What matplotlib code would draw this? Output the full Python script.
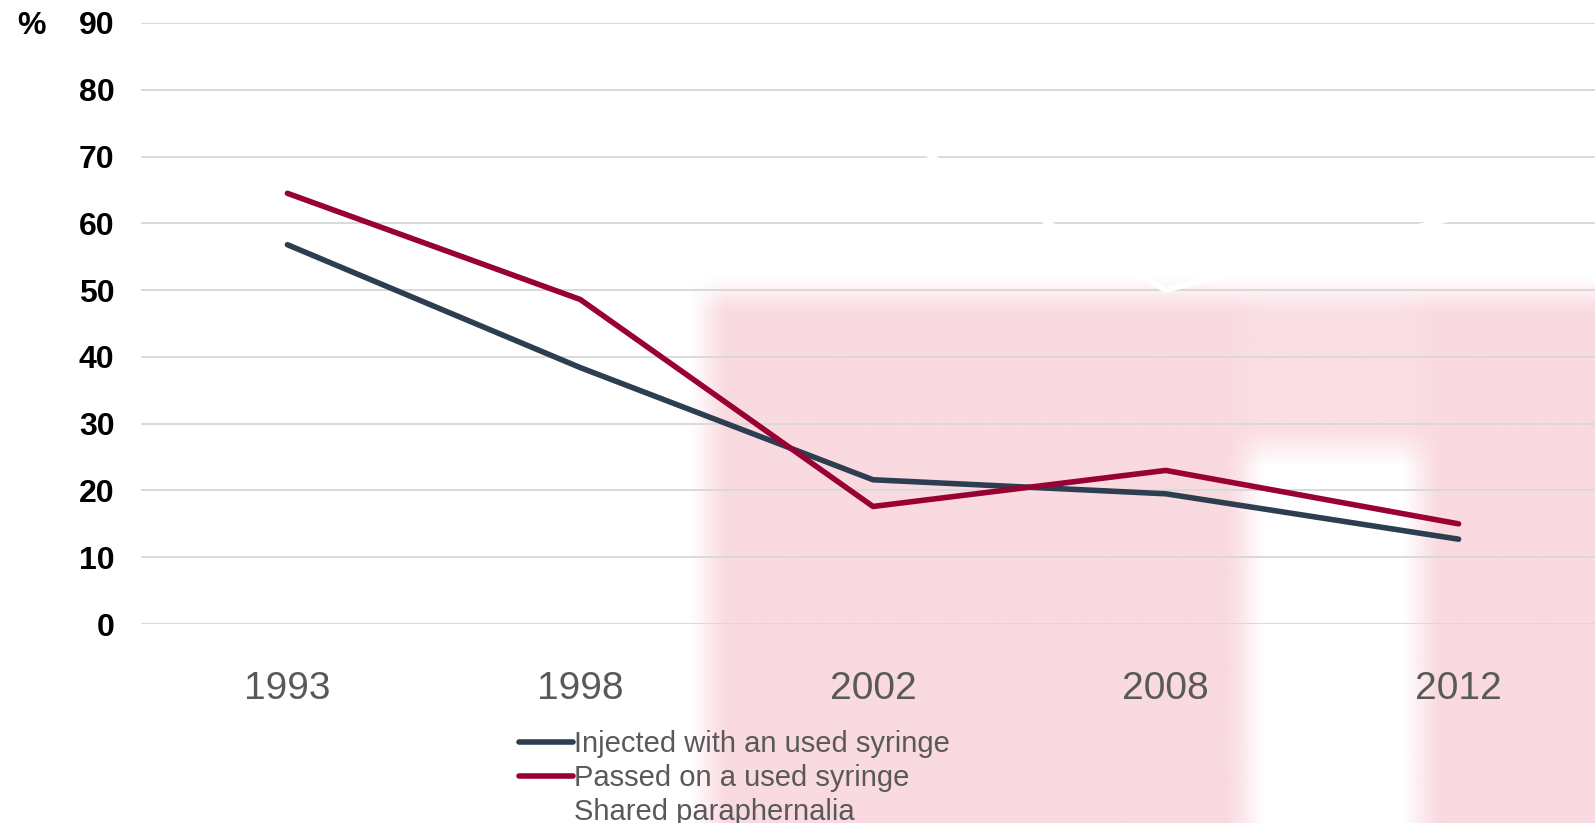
import matplotlib.pyplot as plt
import numpy as np
from matplotlib.lines import Line2D

plt.rcParams['font.family'] = ['Liberation Sans', 'DejaVu Sans']

years = ['1993', '1998', '2002', '2008', '2012']
injected = [56.8, 38.4, 21.6, 19.5, 12.7]
passed_on = [64.5, 48.6, 17.6, 23.0, 15.0]
shared = [76, 77, 75, 50, 61]   # drawn in white, only visible over the pink watermark

series_names = ['Injected with an used syringe', 'Passed on a used syringe', 'Shared paraphernalia']
colors = ['#2c3e50', '#990033', '#ffffff']

W, H = 1595, 823
fig = plt.figure(figsize=(W / 100, H / 100), dpi=100)

# faded watermark behind the chart (pink logo block on the right), built at 1/5 scale
s = 5
mask = np.zeros((H // s + 1, W // s + 1))
def block(x0, x1, y0, y1, v=1.0):
    mask[y0 // s:y1 // s + 1, x0 // s:x1 // s + 1] = v
block(712, 1595, 295, 823)
block(1250, 1420, 445, 823, 0.0)
block(1250, 1420, 295, 445, 0.85)
k = 7
kern = np.ones(k) / k
padded = np.pad(mask, k, mode='edge')
padded = np.apply_along_axis(lambda r: np.convolve(r, kern, mode='same'), 1, padded)
padded = np.apply_along_axis(lambda c: np.convolve(c, kern, mode='same'), 0, padded)
mask = padded[k:-k, k:-k]
rgba = np.zeros(mask.shape + (4,))
rgba[..., 0] = 249 / 255
rgba[..., 1] = 213 / 255
rgba[..., 2] = 220 / 255
rgba[..., 3] = np.clip(mask, 0, 1) * 0.88
bg = fig.add_axes([0, 0, 1, 1], zorder=-10)
bg.imshow(rgba, extent=[0, 1, 0, 1], aspect='auto', interpolation='bilinear')
bg.axis('off')

# main axes; plot area runs past the right edge like the original slide
left, right = 141, 1605
top, bottom = 23, 624
ax = fig.add_axes([left / W, 1 - bottom / H, (right - left) / W, (bottom - top) / H])
ax.patch.set_alpha(0)

x = np.arange(len(years))
ax.plot(x, shared, color=colors[2], lw=4, solid_capstyle='round', zorder=3)
ax.plot(x, injected, color=colors[0], lw=4, solid_capstyle='round', zorder=4)
ax.plot(x, passed_on, color=colors[1], lw=4, solid_capstyle='round', zorder=5)

ax.set_xlim(-0.5, len(years) - 0.5)
ax.set_ylim(0, 90)
ax.set_yticks(range(0, 91, 10))
ax.set_xticks(x)
ax.set_xticklabels(years)
ax.grid(axis='y', color='#d9d9d9', lw=1.4)
ax.set_axisbelow(True)
for sp in ax.spines.values():
    sp.set_visible(False)
ax.tick_params(axis='y', length=0, pad=19, labelsize=23, labelcolor='black')
for lab in ax.get_yticklabels():
    lab.set_fontweight('bold')
ax.tick_params(axis='x', length=0, pad=34, labelsize=28, labelcolor='#595959')

fig.text(31 / W, 1 - 26 / H, '%', ha='center', va='center', fontsize=23, fontweight='bold')

handles = [Line2D([], [], color=c, lw=4, solid_capstyle='round') for c in colors]
fig.legend(handles, series_names, loc='upper left', bbox_to_anchor=(519 / W, 1 - 730 / H),
           frameon=False, fontsize=21, labelcolor='#595959', handlelength=1.85,
           handletextpad=0.05, labelspacing=0.2, borderpad=0, borderaxespad=0)

plt.savefig('out.png')
